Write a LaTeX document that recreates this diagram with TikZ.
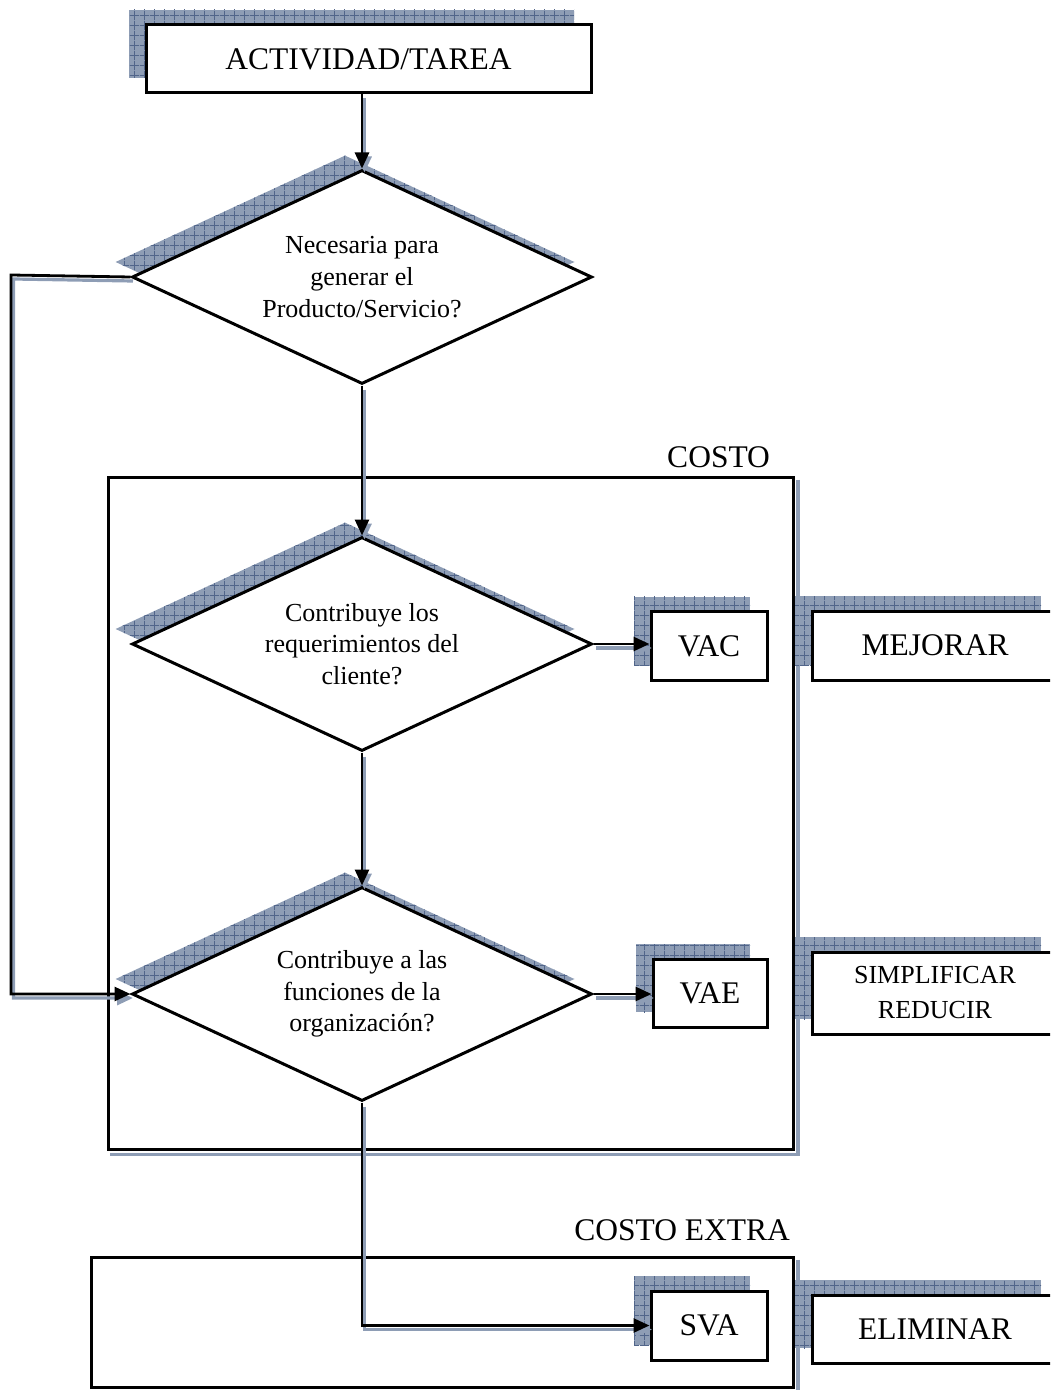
\documentclass[tikz,border=0pt]{standalone}
\usepackage{fontspec}
\setmainfont{Liberation Serif}
\usetikzlibrary{shapes.geometric,arrows.meta,patterns.meta,shadows}

\definecolor{shfill}{HTML}{8E9DB5}
\definecolor{shgridc}{HTML}{51658A}

% hatched grid used inside the drop shadows
\tikzdeclarepattern{
  name=shgrid,
  type=uncolored,
  bounding box={(0pt,0pt) and (5pt,5pt)},
  tile size={(5pt,5pt)},
  code={
    \draw[line width=0.4pt] (0pt,2.5pt) -- (5pt,2.5pt);
    \draw[line width=0.4pt] (2.5pt,0pt) -- (2.5pt,5pt);
  }
}

\tikzset{
  hatchshadow/.style={
    general shadow={shadow xshift=-8.5pt, shadow yshift=7.5pt, fill=shfill},
    general shadow={shadow xshift=-8.5pt, shadow yshift=7.5pt, pattern=shgrid, pattern color=shgridc}},
  bigfont/.style={font=\fontsize{15.75pt}{18pt}\selectfont},
  smallfont/.style={font=\fontsize{13pt}{15.8pt}\selectfont},
  box/.style={draw, line width=1.5pt, fill=white, inner sep=0pt, align=center, hatchshadow},
  decision/.style={diamond, aspect=2.15, draw, line width=1.5pt, fill=white, inner sep=0pt,
    minimum width=230pt, minimum height=107pt, align=center, smallfont, hatchshadow},
  frame/.style={draw, line width=1.5pt, inner sep=0pt},
  lineshadow/.style={draw=shfill, line width=1.6pt},
  conn/.style={line width=1.4pt,
    preaction={lineshadow, transform canvas={shift={(1.25pt,-2pt)}}}},
  arr/.style={-{Triangle[length=8pt,width=7pt]}},
}

\begin{document}
\begin{tikzpicture}[x=0.5pt, y=-0.5pt]
\useasboundingbox (0,0) rectangle (1050,1390);
\clip (0,0) rectangle (1050,1390);

% cost regions
\node[frame, minimum width=342.75pt, minimum height=336pt] (costo) at (450.75,813) {};
\node[frame, minimum width=351.25pt, minimum height=65pt] (extra) at (442.25,1322) {};
\draw[lineshadow, transform canvas={shift={(1.5pt,-2pt)}}]
  (costo.north east) -- (costo.south east) -- (costo.south west);
\draw[lineshadow, transform canvas={shift={(1.5pt,-2pt)}}]
  (extra.north east) -- (extra.south east);
\node[bigfont, anchor=base east] (costolbl) at (777,467) {COSTO};
\node[bigfont, anchor=base east] (extralbl) at (797,1240) {COSTO EXTRA};

% activity and decisions
\node[box, bigfont, minimum width=222.5pt, minimum height=34pt] (act) at (368.5,59) {ACTIVIDAD/TAREA};
\node[decision] (d1) at (362,277) {Necesaria para\\generar el\\Producto/Servicio?};
\node[decision] (d2) at (362,644) {Contribuye los\\requerimientos del\\cliente?};
\node[decision] (d3) at (362,994) {Contribuye a las\\funciones de la\\organización?};

% value classes
\node[box, bigfont, minimum width=58pt, minimum height=34.5pt] (vac) at (709,646) {VAC};
\node[box, bigfont, minimum width=57pt, minimum height=34pt] (vae) at (710,993) {VAE};
\node[box, bigfont, minimum width=58pt, minimum height=34.5pt] (sva) at (709,1325.5) {SVA};

% actions
\node[box, bigfont, minimum width=123pt, minimum height=34.5pt] (mej) at (935,645.5) {MEJORAR};
\node[box, font=\fontsize{13pt}{17.5pt}\selectfont, minimum width=123pt, minimum height=41pt] (sim) at (935,993) {SIMPLIFICAR\\REDUCIR};
\node[box, bigfont, minimum width=123pt, minimum height=34pt] (eli) at (935,1329) {ELIMINAR};

% connectors
\coordinate (lc) at (11,275);
\draw[conn, arr] (act.south -| d1.north) -- (d1.north);
\draw[conn, arr] (d1.south) -- (d2.north);
\draw[conn, arr] (d2.south) -- (d3.north);
\draw[conn, arr] (d1.west) -- (lc) |- (d3.west);
\draw[conn, arr] (d2.east) -- (d2.east -| vac.west);
\draw[conn, arr] (d3.east) -- (d3.east -| vae.west);
\draw[conn, arr] (d3.south) |- (sva.west);
\end{tikzpicture}
\end{document}
